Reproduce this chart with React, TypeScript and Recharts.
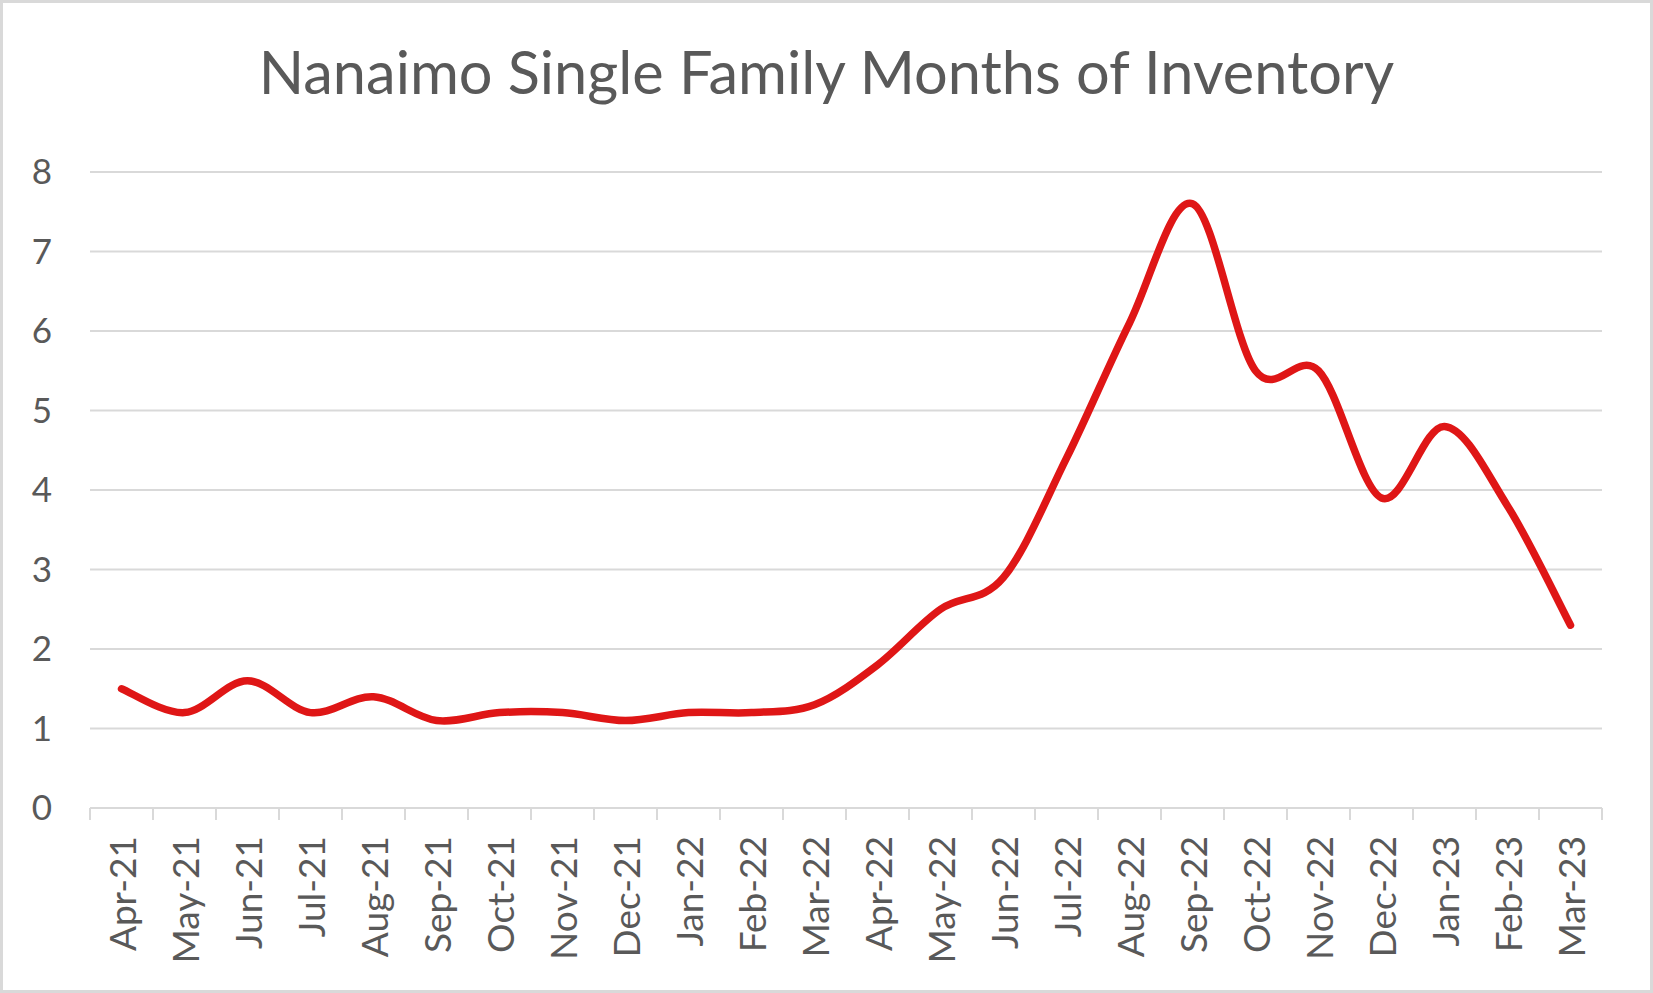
import React from "react";
import {
  ComposedChart,
  Line,
  XAxis,
  YAxis,
  CartesianGrid,
} from "recharts";

const months = [
  "Apr-21", "May-21", "Jun-21", "Jul-21", "Aug-21", "Sep-21",
  "Oct-21", "Nov-21", "Dec-21", "Jan-22", "Feb-22", "Mar-22",
  "Apr-22", "May-22", "Jun-22", "Jul-22", "Aug-22", "Sep-22",
  "Oct-22", "Nov-22", "Dec-22", "Jan-23", "Feb-23", "Mar-23",
];
const monthsOfInventory = [
  1.5, 1.2, 1.6, 1.2, 1.4, 1.1,
  1.2, 1.2, 1.1, 1.2, 1.2, 1.3,
  1.8, 2.5, 2.9, 4.4, 6.1, 7.6,
  5.5, 5.5, 3.9, 4.8, 3.8, 2.3,
];
const yTicks = [0, 1, 2, 3, 4, 5, 6, 7, 8];

const data = months.map((month, i) => ({ month, value: monthsOfInventory[i] }));

const W = 1653;
const H = 993;
const PLOT_LEFT = 90;
const PLOT_RIGHT = 1602;
const GRID = "#d9d9d9";
const TEXT = "#595959";
const FONT = "Lato, 'Open Sans', sans-serif";

// excel style smoothing (catmull-rom as cubic bezier)
function excelCurve(context: any) {
  let pts: number[][] = [];
  return {
    areaStart() {},
    areaEnd() {},
    lineStart() {
      pts = [];
    },
    point(x: number, y: number) {
      pts.push([+x, +y]);
    },
    lineEnd() {
      if (!pts.length) return;
      context.moveTo(pts[0][0], pts[0][1]);
      for (let i = 0; i < pts.length - 1; i++) {
        const p0 = pts[i - 1] || pts[i];
        const p1 = pts[i];
        const p2 = pts[i + 1];
        const p3 = pts[i + 2] || pts[i + 1];
        context.bezierCurveTo(
          p1[0] + (p2[0] - p0[0]) / 6,
          p1[1] + (p2[1] - p0[1]) / 6,
          p2[0] - (p3[0] - p1[0]) / 6,
          p2[1] - (p3[1] - p1[1]) / 6,
          p2[0],
          p2[1]
        );
      }
    },
  };
}

const band = (PLOT_RIGHT - PLOT_LEFT) / months.length;

function MonthTick(props: any) {
  const { x, y, payload, index } = props;
  return (
    <g>
      <line x1={x - band / 2} x2={x - band / 2} y1={y} y2={y + 12} stroke={GRID} strokeWidth={2} />
      {index === months.length - 1 && (
        <line x1={x + band / 2} x2={x + band / 2} y1={y} y2={y + 12} stroke={GRID} strokeWidth={2} />
      )}
      <text
        x={x}
        y={y + 28}
        transform={`rotate(-90, ${x}, ${y + 28})`}
        textAnchor="end"
        dominantBaseline="central"
        fill={TEXT}
        fontSize={37}
        fontFamily={FONT}
      >
        {payload.value}
      </text>
    </g>
  );
}

export default function App() {
  return (
    <div style={{ position: "absolute", left: 0, top: 0, width: W, height: H, background: "#fff" }}>
      <div
        style={{
          position: "absolute",
          left: 0,
          top: 42,
          width: W,
          textAlign: "center",
          fontFamily: FONT,
          fontSize: 59.5,
          lineHeight: "59.5px",
          color: TEXT,
        }}
      >
        Nanaimo Single Family Months of Inventory
      </div>
      <ComposedChart
        width={W}
        height={H}
        data={data}
        margin={{ top: 172, right: W - PLOT_RIGHT, bottom: 0, left: 0 }}
      >
        <CartesianGrid vertical={false} stroke={GRID} strokeWidth={2} />
        <XAxis
          dataKey="month"
          interval={0}
          tickSize={0}
          tickMargin={0}
          tickLine={false}
          padding={{ left: band / 2, right: band / 2 }}
          axisLine={{ stroke: GRID, strokeWidth: 2 }}
          tick={<MonthTick />}
          height={185}
        />
        <YAxis
          domain={[0, 8]}
          ticks={yTicks}
          interval={0}
          width={PLOT_LEFT}
          axisLine={false}
          tickLine={false}
          tickSize={0}
          tickMargin={38}
          tick={{ fill: TEXT, fontSize: 35, fontFamily: FONT }}
        />
        <Line
          dataKey="value"
          type={excelCurve as any}
          stroke="#df1616"
          strokeWidth={7.5}
          strokeLinecap="round"
          dot={false}
          activeDot={false}
          isAnimationActive={false}
        />
      </ComposedChart>
      <div
        style={{
          position: "absolute",
          left: 0,
          top: 0,
          width: W,
          height: H,
          boxSizing: "border-box",
          border: `3px solid ${GRID}`,
          pointerEvents: "none",
        }}
      />
    </div>
  );
}
